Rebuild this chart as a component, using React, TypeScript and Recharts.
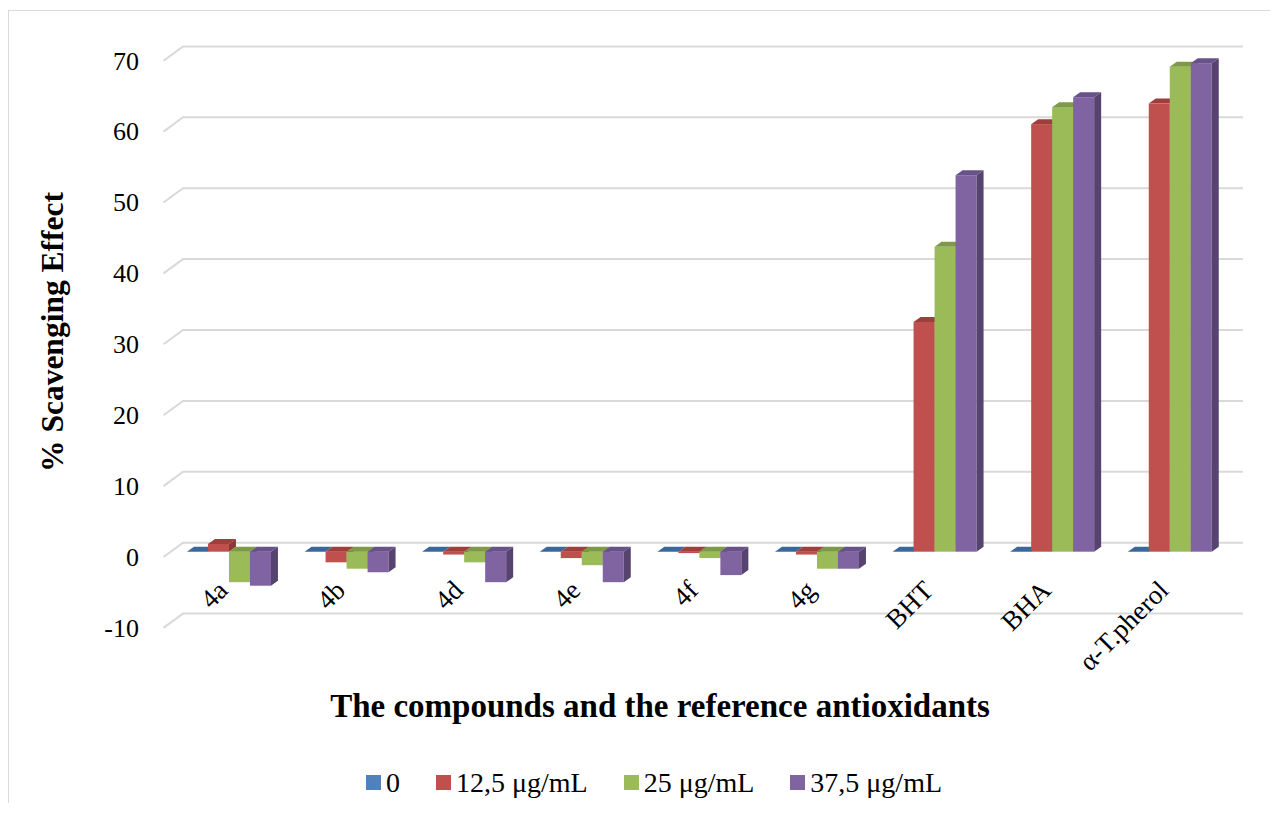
import React from "react";
import { BarChart, Bar, XAxis, YAxis, CartesianGrid, Legend, Label } from "recharts";

const categories = ["4a", "4b", "4d", "4e", "4f", "4g", "BHT", "BHA", "α-T.pherol"];
const conc0 = [0, 0, 0, 0, 0, 0, 0, 0, 0];
const conc12 = [1.1, -1.5, -0.4, -0.9, -0.2, -0.4, 32.4, 60.3, 63.2];
const conc25 = [-4.3, -2.4, -1.5, -1.9, -0.9, -2.4, 43.0, 62.7, 68.4];
const conc37 = [-4.8, -2.9, -4.3, -4.3, -3.3, -2.4, 53.1, 64.1, 68.9];
const yTicks = [-10, 0, 10, 20, 30, 40, 50, 60, 70];
const seriesNames = ["0", "12,5 μg/mL", "25 μg/mL", "37,5 μg/mL"];

const data = categories.map((name, i) => ({
    name,
    s0: conc0[i],
    s1: conc12[i],
    s2: conc25[i],
    s3: conc37[i]
}));

// front, top, side colours of the 3D boxes
const palette = [
    { front: "#4f81bd", top: "#3c679a", side: "#36597f" },
    { front: "#c0504d", top: "#9e3f3c", side: "#8c3836" },
    { front: "#9bbb59", top: "#7e9a48", side: "#708a3f" },
    { front: "#8064a2", top: "#68528a", side: "#574370" }
];

const FONT = "'Liberation Serif', 'Times New Roman', serif";
const DX = 7;
const DY = 5;

const makeBox = (c: { front: string; top: string; side: string }) => (props: any) => {
    const { x, y, width, height } = props;
    if (x == null || y == null) return <g />;
    const y1 = Math.min(y, y + height);
    const y2 = Math.max(y, y + height);
    const x2 = x + width;
    return (
        <g>
            <rect x={x} y={y1} width={width} height={y2 - y1} fill={c.front} />
            <polygon
                points={`${x},${y1} ${x + DX},${y1 - DY} ${x2 + DX},${y1 - DY} ${x2},${y1}`}
                fill={c.top}
            />
            <polygon
                points={`${x2},${y1} ${x2 + DX},${y1 - DY} ${x2 + DX},${y2 - DY} ${x2},${y2}`}
                fill={c.side}
            />
        </g>
    );
};

const gridLine = (p: any) => {
    const fx = p.x1 - 7;
    const fy = p.y1 + 5.3;
    return (
        <polyline
            key={p.key}
            points={`${fx},${fy} ${fx + 19.5},${fy - 14.3} ${p.x2 + 14},${fy - 14.3}`}
            fill="none"
            stroke="#d9d9d9"
            strokeWidth={2}
        />
    );
};

const YTick = (props: any) => {
    const { y, payload } = props;
    return (
        <text x={130} y={y + 5.6} textAnchor="end" dominantBaseline="central"
            fontFamily={FONT} fontSize={26} fill="#000">
            {payload.value}
        </text>
    );
};

const XTick = (props: any) => {
    const { x, payload } = props;
    const ly = 581;
    return (
        <text x={x} y={ly} transform={`rotate(-45 ${x} ${ly})`} textAnchor="end"
            fontFamily={FONT} fontSize={27} fill="#000">
            {payload.value}
        </text>
    );
};

const LegendContent = () => (
    <div style={{
        display: "flex", justifyContent: "center", alignItems: "center", gap: 36,
        paddingLeft: 28, fontFamily: FONT, fontSize: 28, color: "#000", height: 30
    }}>
        {seriesNames.map((n, i) => (
            <div key={n} style={{ display: "flex", alignItems: "center", gap: 5 }}>
                <span style={{ width: 15, height: 15, background: palette[i].front, display: "inline-block" }} />
                <span>{n}</span>
            </div>
        ))}
    </div>
);

export default function App() {
    return (
        <div style={{
            width: 1262, height: 804, marginTop: 2, marginBottom: -12,
            borderTop: "1px solid #d9d9d9", borderLeft: "1px solid #d9d9d9",
            background: "#fff", position: "relative"
        }}>
            <BarChart
                width={1262}
                height={796}
                data={data}
                margin={{ top: 44.4, right: 42.1, bottom: 154.4, left: 0 }}
                barCategoryGap="14%"
                barGap={0}
            >
                <CartesianGrid vertical={false} horizontal={gridLine} />
                <XAxis dataKey="name" interval={0} axisLine={false} tickLine={false}
                    height={30} tick={<XTick />}>
                    <Label content={() => (
                        <text x={651} y={706} textAnchor="middle" fontFamily={FONT}
                            fontSize={33} fontWeight="bold" fill="#000">
                            The compounds and the reference antioxidants
                        </text>
                    )} />
                </XAxis>
                <YAxis width={161.5} domain={[-10, 70]} ticks={yTicks} axisLine={false}
                    tickLine={false} tick={<YTick />} interval={0}>
                    <Label content={() => (
                        <text x={54} y={321} transform="rotate(-90 54 321)" textAnchor="middle"
                            fontFamily={FONT} fontSize={31.5} fontWeight="bold" fill="#000">
                            % Scavenging Effect
                        </text>
                    )} />
                </YAxis>
                <Legend verticalAlign="middle" align="center" layout="horizontal"
                    wrapperStyle={{ top: 756.5, left: 0, width: 1262 }}
                    content={<LegendContent />} />
                <Bar dataKey="s0" name={seriesNames[0]} shape={makeBox(palette[0])} isAnimationActive={false} />
                <Bar dataKey="s1" name={seriesNames[1]} shape={makeBox(palette[1])} isAnimationActive={false} />
                <Bar dataKey="s2" name={seriesNames[2]} shape={makeBox(palette[2])} isAnimationActive={false} />
                <Bar dataKey="s3" name={seriesNames[3]} shape={makeBox(palette[3])} isAnimationActive={false} />
            </BarChart>
        </div>
    );
}
